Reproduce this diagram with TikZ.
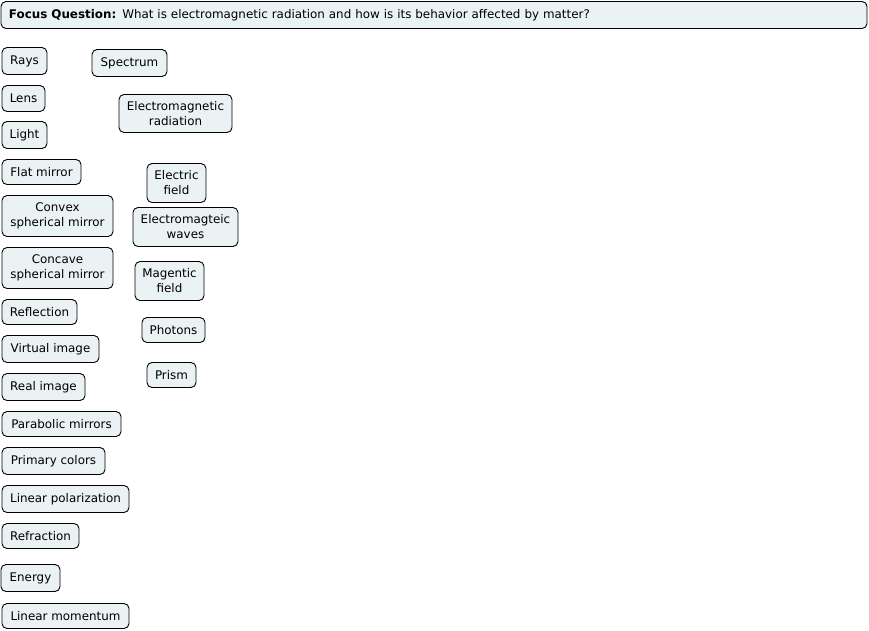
\documentclass[tikz,border=0pt]{standalone}
\usepackage{fontspec}
\setmainfont{DejaVu Sans}
\definecolor{boxfill}{RGB}{235,242,244}
\tikzset{
  cbox/.style={draw=black, fill=boxfill, rounded corners=5pt, line width=0.9pt,
    inner sep=0pt, align=center, font=\fontsize{11.9}{15}\selectfont}
}
\begin{document}
\begin{tikzpicture}[x=1pt,y=-1pt]
\useasboundingbox (0,0) rectangle (869,630);
\node[cbox, minimum width=866pt, minimum height=27pt, text width=850pt, inner xsep=8pt, align=left] (focus) at (434,15) {\textbf{Focus Question:} What is electromagnetic radiation and how is its behavior affected by matter?};
\node[cbox, minimum width=45pt, minimum height=27pt] (rays) at (24.5,61) {Rays};
\node[cbox, minimum width=75pt, minimum height=27pt] (spectrum) at (129.5,63) {Spectrum};
\node[cbox, minimum width=43pt, minimum height=26pt] (lens) at (23.5,98.5) {Lens};
\node[cbox, minimum width=113pt, minimum height=38pt] (emrad) at (175.5,113.5) {Electromagnetic\\radiation};
\node[cbox, minimum width=45pt, minimum height=27pt] (light) at (24.5,135) {Light};
\node[cbox, minimum width=79pt, minimum height=25pt] (flat) at (41.5,172) {Flat mirror};
\node[cbox, minimum width=59pt, minimum height=39pt] (efield) at (176.5,183) {Electric\\field};
\node[cbox, minimum width=111pt, minimum height=41pt] (convex) at (57.5,216) {Convex\\spherical mirror};
\node[cbox, minimum width=105pt, minimum height=39pt] (emwaves) at (185.5,227) {Electromagteic\\waves};
\node[cbox, minimum width=111pt, minimum height=41pt] (concave) at (57.5,268) {Concave\\spherical mirror};
\node[cbox, minimum width=69pt, minimum height=39pt] (mfield) at (169.5,281) {Magentic\\field};
\node[cbox, minimum width=75pt, minimum height=25pt] (reflection) at (39.5,312) {Reflection};
\node[cbox, minimum width=63pt, minimum height=25pt] (photons) at (173.5,330) {Photons};
\node[cbox, minimum width=97pt, minimum height=27pt] (virtual) at (50.5,349) {Virtual image};
\node[cbox, minimum width=49pt, minimum height=25pt] (prism) at (171.5,375) {Prism};
\node[cbox, minimum width=83pt, minimum height=27pt] (real) at (43.5,387) {Real image};
\node[cbox, minimum width=119pt, minimum height=25pt] (parabolic) at (61.5,424) {Parabolic mirrors};
\node[cbox, minimum width=103pt, minimum height=27pt] (primary) at (53.5,461) {Primary colors};
\node[cbox, minimum width=127pt, minimum height=27pt] (linpol) at (65.5,499) {Linear polarization};
\node[cbox, minimum width=77pt, minimum height=25pt] (refraction) at (40.5,536) {Refraction};
\node[cbox, minimum width=59pt, minimum height=27pt] (energy) at (30.5,578) {Energy};
\node[cbox, minimum width=127pt, minimum height=25pt] (linmom) at (65.5,616) {Linear momentum};
\end{tikzpicture}
\end{document}
